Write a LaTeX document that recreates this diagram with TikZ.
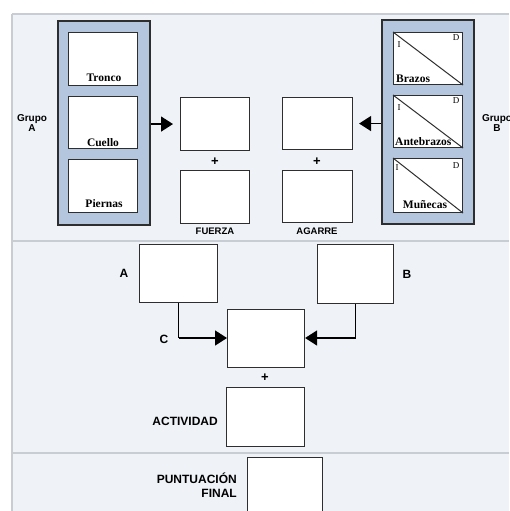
\documentclass[tikz,border=0pt]{standalone}
\usepackage{fontspec}
\setmainfont{Liberation Serif}
\setsansfont{Liberation Sans}
\usetikzlibrary{arrows.meta}

\definecolor{panelbg}{HTML}{EFF3F8}
\definecolor{rule}{HTML}{C8CDD3}
\definecolor{groupfill}{HTML}{B3C6DE}
\definecolor{edge}{HTML}{2E2E2E}

\begin{document}
\begin{tikzpicture}[x=1pt,y=-1pt,
  box/.style={draw=edge, fill=white, line width=1.1pt, rectangle, inner sep=0pt, anchor=north west},
  grouppanel/.style={draw=edge, fill=groupfill, line width=1.6pt, rectangle, inner sep=0pt, anchor=north west},
  lab/.style={font=\sffamily\bfseries\fontsize{9.5}{10}\selectfont, text=black, inner sep=0pt},
  biglab/.style={font=\sffamily\bfseries\fontsize{12}{13.5}\selectfont, text=black, inner sep=0pt},
  plus/.style={font=\sffamily\bfseries\fontsize{13}{13}\selectfont, inner sep=0pt},
  part/.style={font=\rmfamily\bfseries\fontsize{11.5}{12}\selectfont, inner sep=0pt},
  side/.style={font=\rmfamily\fontsize{9}{9}\selectfont, inner sep=0pt},
  arr/.style={line width=1.5pt, draw=black, -{Triangle[length=12pt,width=15pt]}},
  link/.style={line width=1.5pt, draw=black}]

\clip (0,0) rectangle (509,511);
\fill[white] (0,0) rectangle (509,511);

% background panel and section rules
\fill[panelbg] (12,14) rectangle (509,511);
\draw[rule, line width=1.5pt] (12,14) -- (509,14);
\draw[rule, line width=1.5pt] (12,14) -- (12,511);
\draw[rule, line width=1.5pt] (12,241) -- (509,241);
\draw[rule, line width=1.5pt] (12,453) -- (509,453);

% group A
\node[grouppanel, minimum width=92pt, minimum height=204pt] (pa) at (57,20) {};
\node[box, minimum width=69pt, minimum height=53pt] (tronco) at (68,32) {};
\node[box, minimum width=69pt, minimum height=52pt] (cuello) at (68,96) {};
\node[box, minimum width=69pt, minimum height=53pt] (piernas) at (68,159) {};
\node[part] (ltronco) at (104,78) {Tronco};
\node[part] (lcuello) at (103,143) {Cuello};
\node[part] (lpiernas) at (104,204) {Piernas};
\node[lab, align=center, font=\sffamily\bfseries\fontsize{10}{10.5}\selectfont] (ga) at (32,123) {Grupo\\A};

% group B
\node[grouppanel, minimum width=92pt, minimum height=204pt] (pb) at (381,19) {};
\node[box, minimum width=69pt, minimum height=52pt] (brazos) at (393,32) {};
\node[box, minimum width=69pt, minimum height=52pt] (antebrazos) at (393,95) {};
\node[box, minimum width=69pt, minimum height=54pt] (munecas) at (393,158) {};
\foreach \b in {brazos,antebrazos,munecas}
  \draw[edge, line width=1pt] (\b.north west) -- (\b.south east);
\node[part, anchor=west] (lbrazos) at (396,79) {Brazos};
\node[part, anchor=west] (lantebrazos) at (395,142) {Antebrazos};
\node[part] (lmunecas) at (425,205) {Muñecas};
\node[side] (i1) at (399,45) {I};
\node[side] (d1) at (456,38) {D};
\node[side] (i2) at (399,108) {I};
\node[side] (d2) at (456,101) {D};
\node[side] (i3) at (397,168) {I};
\node[side] (d3) at (456,166) {D};
\node[lab, align=center, font=\sffamily\bfseries\fontsize{10}{10.5}\selectfont] (gb) at (497,123) {Grupo\\B};

% middle score boxes
\node[box, minimum width=69pt, minimum height=53pt] (sa) at (180,97) {};
\node[box, minimum width=69pt, minimum height=53pt] (fuerza) at (180,170) {};
\node[box, minimum width=70pt, minimum height=52pt] (sb) at (282,97) {};
\node[box, minimum width=70pt, minimum height=52pt] (agarre) at (282,170) {};
\node[plus] (p1) at (215,162) {+};
\node[plus] (p2) at (317,162) {+};
\node[lab] (lfuerza) at (215,231) {FUERZA};
\node[lab] (lagarre) at (317,231) {AGARRE};

\draw[arr, shorten >=7pt] (pa.east |- sa.west) -- (sa.west);
\draw[arr, shorten >=6pt] (pb.west |- sb.east) -- (sb.east);

% second section
\node[box, minimum width=78pt, minimum height=58pt] (ba) at (139,244) {};
\node[box, minimum width=76pt, minimum height=59pt] (bb) at (317,244) {};
\node[box, minimum width=77pt, minimum height=58pt] (bc) at (227,309) {};
\node[box, minimum width=78pt, minimum height=59pt] (act) at (226,387) {};
\node[biglab] (la) at (124,273) {A};
\node[biglab] (lb) at (407,274) {B};
\node[biglab] (lc) at (164,339) {C};
\node[plus] (p3) at (265,378) {+};
\node[biglab, anchor=east] (lact) at (218,421) {ACTIVIDAD};

\coordinate (ca) at (ba.south |- 0,338);
\coordinate (cb) at (bb.south |- 0,338);
\draw[link] (ba.south) -- (ca);
\draw[arr] (ca) -- (ca -| bc.west);
\draw[link] (bb.south) -- (cb);
\draw[arr] (cb) -- (cb -| bc.east);

% final section
\node[box, minimum width=75pt, minimum height=70pt] (final) at (247,457) {};
\node[biglab, anchor=east, align=right] (lfinal) at (237,485) {PUNTUACIÓN\\FINAL};

\end{tikzpicture}
\end{document}
